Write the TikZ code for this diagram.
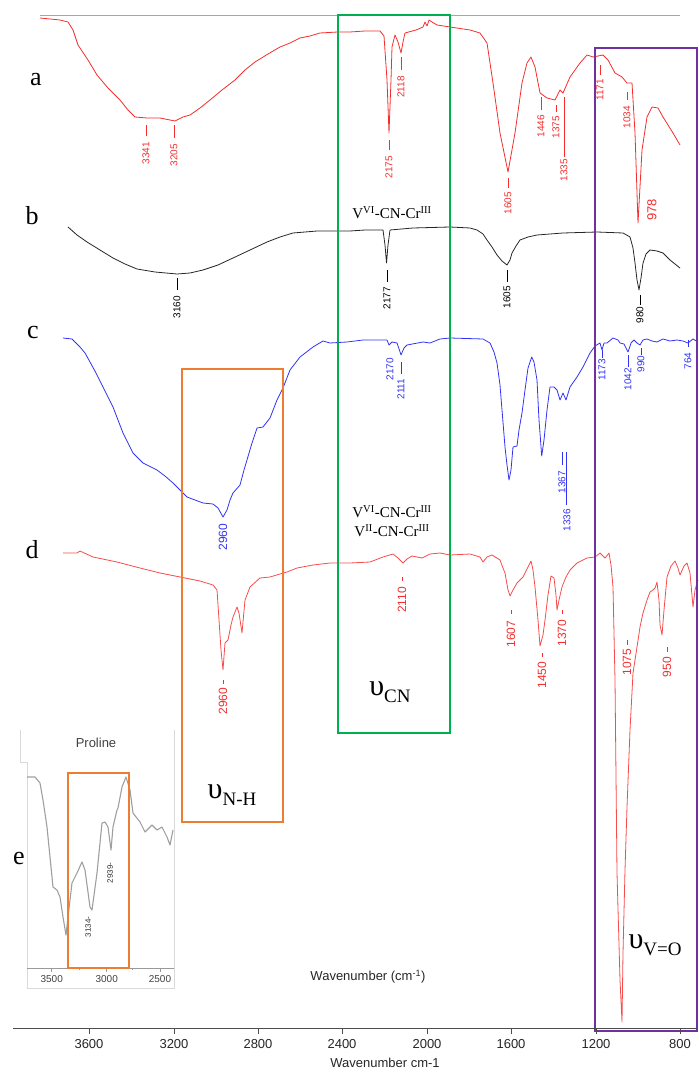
\documentclass[tikz,border=0pt]{standalone}
\usepackage{fontspec}
\setmainfont{Liberation Serif}
\setsansfont{Liberation Sans}
\definecolor{specred}{RGB}{245,45,45}
\definecolor{specblue}{RGB}{50,50,245}
\definecolor{cngreen}{RGB}{0,176,80}
\definecolor{vopurple}{RGB}{112,48,160}
\definecolor{nhorange}{RGB}{237,125,49}
\tikzset{
  spec/.style={line width=0.8pt, line join=round},
  boxline/.style={line width=2.6pt},
  peaklab/.style={font=\fontsize{10}{10}\sffamily\selectfont, inner sep=0pt, rotate=90},
  bigpeak/.style={font=\fontsize{12}{12}\sffamily\selectfont, inner sep=0pt, rotate=90},
  tracelab/.style={font=\fontsize{26}{26}\selectfont, inner sep=0pt},
  bandlab/.style={font=\fontsize{30}{30}\selectfont, inner sep=0pt},
  bondlab/.style={font=\fontsize{15}{15}\selectfont, inner sep=0pt},
  axislab/.style={font=\fontsize{13}{13}\sffamily\selectfont, text=black!85, inner sep=0pt}
}
\newcommand\bandsub[1]{\raisebox{-7pt}{\fontsize{19}{19}\selectfont #1}}

\begin{document}
\begin{tikzpicture}[x=1pt, y=-1pt]
  \useasboundingbox (0,0) rectangle (698,1075);
  \draw[gray!70, line width=0.8pt] (40,15) -- (680,15);

  % spectrum a
  \draw[spec, specred] plot coordinates {(40,18) (50,19) (60,20) (68,22) (73,30) (78,45) (88,60) (97,75) (108,88) (120,100) (128,110) (135,117) (147,118) (160,118) (175,121) (183,117) (190,115) (200,108) (210,100) (222,90) (235,80) (245,70) (255,62) (268,54) (280,47) (290,43) (300,38) (310,36) (320,33) (338,32) (350,32) (365,31) (380,31) (384,36) (387,80) (389,133) (391,80) (392,47) (395,35) (398,42) (401,53) (403,42) (405,33) (416,30) (423,27) (425,22) (427,26) (429,20) (432,22) (437,25) (450,27) (470,30) (480,33) (487,43) (493,83) (500,133) (508,172) (515,133) (522,83) (527,63) (531,57) (535,67) (540,93) (547,98) (555,100) (560,90) (563,93) (570,77) (580,63) (587,55) (593,57) (603,55) (608,60) (615,73) (622,77) (627,83) (632,83) (635,133) (638,223) (642,150) (647,117) (652,107) (658,108) (663,117) (673,133) (680,145)};
  \foreach \x/\ya/\yb/\yl/\t in {146/125/136/153/3341, 174/125/138/155/3205, 389/140/150/167/2175, 401/57/70/87/2118, 508/178/188/203/1605, 541/97/110/126/1446, 556/105/112/127/1375, 600/65/75/90/1171, 627/92/100/117/1034}{
    \draw[specred, line width=0.7pt] (\x,\ya) -- (\x,\yb);
    \node[peaklab, text=specred] (pa\t) at (\x,\yl) {\t};
  }
  \draw[specred, line width=0.7pt] (564,97) -- (564,157);
  \node[peaklab, text=specred] (pa1335) at (564,170) {1335};
  \node[peaklab, text=specred, font=\fontsize{13}{13}\sffamily\selectfont] (pa978) at (652,210) {978};

  % spectrum b
  \draw[spec, black!85] plot coordinates {(68,227) (77,235) (87,242) (100,250) (113,258) (125,264) (137,269) (155,272) (177,274) (190,273) (203,270) (218,265) (233,258) (250,250) (267,242) (280,237) (293,233) (317,231) (350,231) (365,230) (383,230) (385,245) (386.5,263) (388,245) (390,230) (413,228) (450,227) (470,228) (477,230) (483,234) (487,240) (492,247) (497,255) (502,261) (507,265) (510,260) (512,253) (516,246) (520,240) (528,237) (537,235) (563,233) (597,232) (623,233) (630,237) (633,248) (635,263) (637,280) (639,290) (641,278) (643,263) (646,254) (650,250) (657,251) (663,253) (670,260) (680,268)};
  \foreach \x/\ya/\yb/\yl/\t in {177/278/290/307/3160, 387/270/282/298/2177, 507/270/282/297/1605, 640/295/305/315/980}{
    \draw[black, line width=0.7pt] (\x,\ya) -- (\x,\yb);
    \node[peaklab, text=black] (pb\t) at (\x,\yl) {\t};
  }
  \node[bondlab] (bond1) at (392,213) {V\textsuperscript{VI}-CN-Cr\textsuperscript{III}};

  % spectrum c
  \draw[spec, specblue] plot coordinates {(63,338) (72,339) (80,347) (85,353) (90,362) (96,373) (103,387) (113,407) (118,420) (123,433) (133,453) (143,463) (157,470) (165,476) (173,483) (180,490) (187,497) (195,500) (203,503) (213,504) (218,508) (223,517) (227,510) (230,500) (233,493) (240,485) (244,470) (247,460) (252,443) (257,428) (263,427) (270,418) (277,400) (283,388) (290,370) (300,357) (313,347) (323,341) (330,343) (347,342) (363,340) (387,340) (389,345) (392,342) (397,343) (401,355) (404,348) (407,345) (423,342) (430,343) (440,339) (450,338) (483,339) (490,343) (494,352) (497,363) (500,385) (502,410) (505,447) (507,465) (509,480) (511,470) (513,447) (517,446) (519,430) (522,413) (525,390) (528,368) (531.7,357) (534,362) (537,380) (539,420) (541.7,456) (544,440) (547,410) (550,387) (554,387) (557,390) (560,400) (563,393) (566,400) (570,387) (577,377) (583,367) (590,353) (595,346) (600,343) (602,350) (604,343) (607,343) (613,338) (618,340) (620,343) (624,344) (628,352) (631,343) (634,340) (637,343) (640,345) (643,340) (647,339) (652,341) (657,342) (663,339) (670,341) (677,340) (683,341) (688,343) (693,339) (698,342)};
  \foreach \x/\ya/\yb/\yl/\t in {401/362/374/389/2111, 602/350/358/370/1173, 628/355/367/379/1042, 641/348/355/364/990, 688/340/347/361/764, 562/452/465/482/1367}{
    \draw[specblue, line width=0.7pt] (\x,\ya) -- (\x,\yb);
    \node[peaklab, text=specblue] (pc\t) at (\x,\yl) {\t};
  }
  \node[peaklab, text=specblue] (pc2170) at (390,369) {2170};
  \draw[specblue, line width=0.7pt] (566,452) -- (566,505);
  \node[peaklab, text=specblue] (pc1336) at (567,520) {1336};
  \node[bigpeak, text=specblue] (pc2960) at (223,537) {2960};
  \node[bondlab] (bond2) at (392,512) {V\textsuperscript{VI}-CN-Cr\textsuperscript{III}};
  \node[bondlab] (bond3) at (392,531) {V\textsuperscript{II}-CN-Cr\textsuperscript{III}};

  % spectrum d
  \draw[spec, specred!85] plot coordinates {(63,553) (77,553) (80,551) (93,557) (117,562) (140,568) (160,573) (180,577) (200,581) (213,585) (217,590) (219,620) (221,650) (223,670) (225,643) (228,640) (231,625) (233,617) (237,607) (239,613) (242,633) (245,600) (250,587) (260,578) (270,577) (280,574) (287,572) (297,568) (313,565) (330,563) (350,563) (370,562) (383,557) (393,554) (398,558) (403,563) (407,559) (412,556) (422,558) (430,554) (440,553) (450,555) (470,554) (480,557) (483,562) (487,557) (492,555) (500,560) (503,568) (505,573) (508,590) (510,596) (513,590) (517,583) (523,577) (531,561) (533,570) (535,587) (538,620) (540,646) (543,635) (545,620) (548,595) (551,576) (554,578) (556,595) (557,610) (559,600) (562,587) (566,577) (570,570) (577,563) (587,558) (595,557) (600,553) (605,558) (609,553) (611,565) (613,587) (615,680) (617,873) (620,980) (622,1022) (623,953) (625,870) (627,807) (630,730) (633,673) (637,647) (640,627) (643,613) (647,600) (650,592) (653,590) (655,588) (657,582) (659,600) (660,625) (662,635) (664,610) (667,577) (671,566) (675,561) (678,568) (680,575) (684,566) (687,563) (690,573) (693,607) (695,590) (698,580)};
  \foreach \x/\ya/\yb/\yl/\t in {223/680/684/701/2960, 402/577/581/600/2110, 511/610/614/634/1607, 542/653/657/675/1450, 562/610/614/633/1370, 627/640/645/662/1075, 667/647/652/667/950}{
    \draw[specred, line width=0.7pt] (\x,\ya) -- (\x,\yb);
    \node[bigpeak, text=specred] (pd\t) at (\x,\yl) {\t};
  }

  % inset e
  \draw[gray!30, line width=0.6pt] (20,730) -- (20,762) -- (27,762) -- (27,988) -- (174,988) -- (174,730);
  \node[font=\fontsize{13}{13}\sffamily\selectfont, text=black!75, inner sep=0pt] (proline) at (96,743) {Proline};
  \draw[gray!80, line width=1pt] (27,968) -- (174,968);
  \foreach \x/\w in {51.7/3500, 106.7/3000, 160/2500}{
    \draw[gray!80, line width=0.8pt] (\x,968) -- (\x,972);
    \node[font=\fontsize{10}{10}\sffamily\selectfont, text=black!75, inner sep=0pt] (e\w) at (\x,979) {\w};
  }
  \foreach \x in {79,132}
    \draw[gray!80, line width=0.6pt] (\x,968) -- (\x,970);
  \draw[spec, gray!75, line width=1.1pt] plot coordinates {(27,777) (35,777) (40,783) (43,800) (47,827) (50,857) (53,887) (57,890) (60,897) (63,917) (66,935) (68,917) (72,883) (77,873) (82,862) (85,870) (90,907) (92,910) (97,873) (102,823) (105,822) (108,827) (111,850) (113,827) (117,810) (118,808) (122,787) (126,777) (130,790) (133,813) (140,822) (145,832) (152,825) (157,830) (162,827) (167,837) (170,845) (173,830)};
  \node[peaklab, font=\fontsize{8}{8}\sffamily\selectfont, text=black!80] (e3134) at (88,927) {3134-};
  \node[peaklab, font=\fontsize{8}{8}\sffamily\selectfont, text=black!80] (e2939) at (110,873) {2939-};
  \draw[nhorange, line width=1.4pt] (68,773) rectangle (129,968);

  % band boxes
  \draw[boxline, cngreen] (338,15) rectangle (450,733);
  \draw[boxline, vopurple] (595,48) rectangle (697,1031);
  \draw[boxline, nhorange] (182,369) rectangle (283,822);
  \node[bandlab] (cn) at (390,692) {υ\bandsub{CN}};
  \node[bandlab] (nh) at (232,795) {υ\bandsub{N-H}};
  \node[bandlab] (vo) at (655,945) {υ\bandsub{V=O}};

  % trace letters
  \node[tracelab] (ta) at (36,80) {a};
  \node[tracelab] (tb) at (32,216) {b};
  \node[tracelab] (tc) at (33,333) {c};
  \node[tracelab] (td) at (32,550) {d};
  \node[tracelab] (te) at (19,858) {e};

  % wavenumber axis
  \node[axislab] (xlab1) at (368,977) {Wavenumber (cm\textsuperscript{-1})};
  \draw[black!70, line width=1pt] (13,1028) -- (697,1028);
  \foreach \x/\w in {89/3600, 174/3200, 258/2800, 342/2400, 427/2000, 511/1600, 596/1200, 680/800}{
    \draw[black!70, line width=0.8pt] (\x,1028) -- (\x,1034);
    \node[axislab] (t\w) at (\x,1044) {\w};
  }
  \node[axislab] (xlab2) at (385,1063) {Wavenumber cm-1};
\end{tikzpicture}
\end{document}
